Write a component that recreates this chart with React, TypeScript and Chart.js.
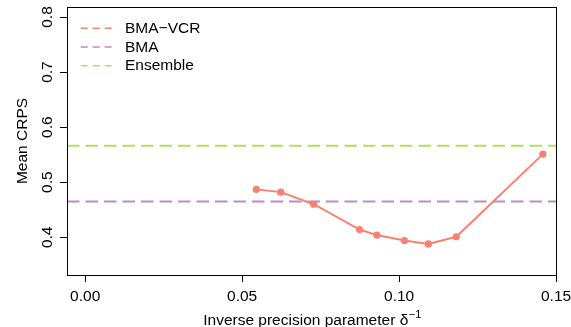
import React, { useEffect, useRef } from "react";
import { Chart, registerables } from "chart.js";

Chart.register(...registerables);

// ---- data ----
const deltaInv = [0.0545, 0.0623, 0.0728, 0.0874, 0.0929, 0.1017, 0.1093, 0.1182, 0.1458];
const crpsVCR = [0.487, 0.482, 0.46, 0.414, 0.404, 0.394, 0.388, 0.401, 0.551];
const crpsBMA = 0.465;
const crpsEnsemble = 0.566;
const seriesLabels = ["BMA\u2212VCR", "BMA", "Ensemble"];
const xTicks = [0, 0.05, 0.1, 0.15];
const yTicks = [0.4, 0.5, 0.6, 0.7, 0.8];
const xLimits = [-0.0058, 0.1503];
const yLimits = [0.3315, 0.8182];
const xTitle = "Inverse precision parameter \u03b4";
const xTitleSup = "\u22121";
const yTitle = "Mean CRPS";

const SALMON = "#FA8072";
const PURPLE = "#C088CA";
const GREEN = "#B2DE62";
const FONT = "'Liberation Sans', Arial, Helvetica, sans-serif";
const FS = 15.5;

const decorPlugin = {
  id: "boxTitlesLegend",
  afterDraw(chart: any) {
    const { ctx, chartArea } = chart;
    ctx.save();
    ctx.strokeStyle = "#000";
    ctx.lineWidth = 1;
    ctx.setLineDash([]);
    ctx.strokeRect(
      Math.round(chartArea.left) + 0.5,
      Math.round(chartArea.top) + 0.5,
      Math.round(chartArea.right - chartArea.left) - 1,
      Math.round(chartArea.bottom - chartArea.top)
    );
    // x title with superscript
    ctx.fillStyle = "#000";
    ctx.textBaseline = "alphabetic";
    ctx.font = `${FS}px ${FONT}`;
    const w1 = ctx.measureText(xTitle).width;
    ctx.font = `11px ${FONT}`;
    const w2 = ctx.measureText(xTitleSup).width;
    const cx = (chartArea.left + chartArea.right) / 2;
    const x0 = cx - (w1 + w2) / 2;
    const by = chartArea.bottom + 49.7;
    ctx.font = `${FS}px ${FONT}`;
    ctx.textAlign = "left";
    ctx.fillText(xTitle, x0, by);
    ctx.font = `11px ${FONT}`;
    ctx.fillText(xTitleSup, x0 + w1 + 0.5, by - 6.5);

    // legend (drawn from the datasets)
    const ds = chart.data.datasets;
    ctx.font = `${FS}px ${FONT}`;
    ctx.textBaseline = "middle";
    for (let i = 0; i < ds.length; i++) {
      const yy = chartArea.top + 21.3 + i * 18.7;
      ctx.strokeStyle = ds[i].borderColor;
      ctx.lineWidth = 1.5;
      ctx.setLineDash([7, 5]);
      ctx.beginPath();
      ctx.moveTo(chartArea.left + 13.7, yy);
      ctx.lineTo(chartArea.left + 44.7, yy);
      ctx.stroke();
      ctx.setLineDash([]);
      ctx.fillStyle = "#000";
      ctx.fillText(ds[i].label, chartArea.left + 58, yy + 0.5);
    }

    // y title
    ctx.textBaseline = "alphabetic";
    ctx.fillStyle = "#000";
    ctx.font = `${FS}px ${FONT}`;
    ctx.translate(26.5, (chartArea.top + chartArea.bottom) / 2);
    ctx.rotate(-Math.PI / 2);
    ctx.textAlign = "center";
    ctx.fillText(yTitle, 0, 0);
    ctx.restore();
  },
};

export default function App() {
  const ref = useRef<HTMLCanvasElement | null>(null);
  useEffect(() => {
    document.body.style.margin = "0";
    if (!ref.current) return;
    const chart = new Chart(ref.current, {
      type: "scatter",
      data: {
        datasets: [
          {
            label: seriesLabels[0],
            data: deltaInv.map((x, i) => ({ x, y: crpsVCR[i] })),
            borderColor: SALMON,
            backgroundColor: SALMON,
            borderWidth: 2,
            showLine: true,
            pointRadius: 3.6,
            pointHoverRadius: 3.6,
            pointBorderWidth: 0,
          },
          {
            label: seriesLabels[1],
            data: xLimits.map((x) => ({ x, y: crpsBMA })),
            borderColor: PURPLE,
            backgroundColor: PURPLE,
            borderWidth: 2,
            borderDash: [12.5, 6],
            showLine: true,
            pointRadius: 0,
            pointHoverRadius: 0,
          },
          {
            label: seriesLabels[2],
            data: xLimits.map((x) => ({ x, y: crpsEnsemble })),
            borderColor: GREEN,
            backgroundColor: GREEN,
            borderWidth: 2,
            borderDash: [12.5, 6],
            showLine: true,
            pointRadius: 0,
            pointHoverRadius: 0,
          },
        ],
      },
      options: {
        responsive: false,
        animation: false,
        devicePixelRatio: 1,
        events: [],
        layout: { padding: { top: 7, right: 14, left: 0, bottom: 0 } },
        plugins: {
          tooltip: { enabled: false },
          legend: { display: false },
        },
        scales: {
          x: {
            type: "linear",
            min: xLimits[0],
            max: xLimits[1],
            afterBuildTicks: (s: any) => {
              s.ticks = xTicks.map((v) => ({ value: v }));
            },
            afterFit: (s: any) => {
              s.height = 52;
              s.paddingLeft = 0;
              s.paddingRight = 0;
            },
            ticks: {
              callback: (v: any) => Number(v).toFixed(2),
              color: "#000",
              font: { family: FONT, size: FS },
              padding: 5,
              autoSkip: false,
              maxRotation: 0,
              minRotation: 0,
            },
            grid: {
              drawOnChartArea: false,
              drawTicks: true,
              tickLength: 7,
              color: "#000",
              tickColor: "#000",
            },
            border: { display: false },
          },
          y: {
            type: "linear",
            min: yLimits[0],
            max: yLimits[1],
            afterBuildTicks: (s: any) => {
              s.ticks = yTicks.map((v) => ({ value: v }));
            },
            afterFit: (s: any) => {
              s.width = 67;
              s.paddingTop = 0;
              s.paddingBottom = 0;
            },
            ticks: {
              callback: (v: any) => Number(v).toFixed(1),
              color: "#000",
              font: { family: FONT, size: FS },
              padding: 1.5,
              autoSkip: false,
              minRotation: 90,
              maxRotation: 90,
              crossAlign: "center",
            },
            grid: {
              drawOnChartArea: false,
              drawTicks: true,
              tickLength: 7,
              color: "#000",
              tickColor: "#000",
            },
            border: { display: false },
          },
        },
      } as any,
      plugins: [decorPlugin],
    });
    return () => chart.destroy();
  }, []);
  return (
    <div style={{ width: 571, height: 327 }}>
      <canvas ref={ref} width={571} height={327} style={{ display: "block" }} />
    </div>
  );
}
